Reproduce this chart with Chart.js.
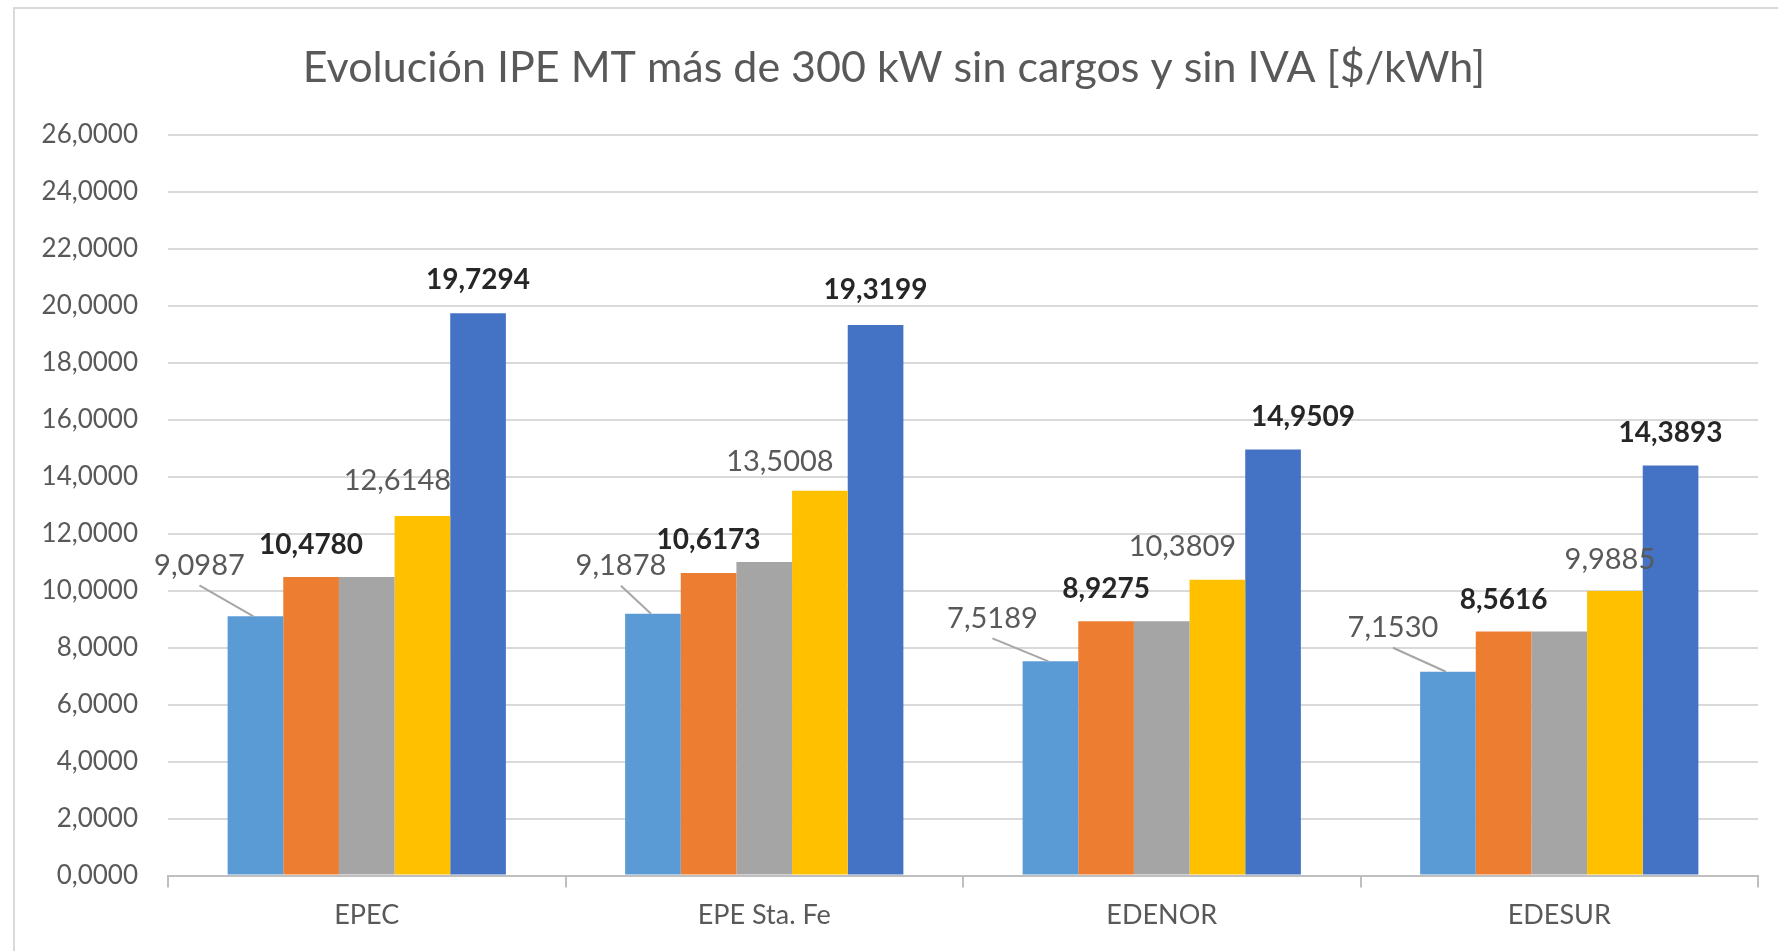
<!DOCTYPE html>
<html>
<head>
<meta charset="utf-8">
<title>Evolución IPE MT</title>
<script src="https://cdn.jsdelivr.net/npm/chart.js@4/dist/chart.umd.min.js"></script>
<style>
	html, body { margin: 0; padding: 0; background: #fff; }
	#wrap { position: relative; width: 1778px; height: 951px; overflow: hidden; }
	#frame { position: absolute; left: 13px; top: 7px; width: 1800px; height: 1000px;
		border-left: 2px solid #d9d9d9; border-top: 2px solid #d9d9d9; }
	#chart { position: absolute; left: 0; top: 0; }
</style>
</head>
<body>
<div id="wrap">
	<div id="frame"></div>
	<canvas id="chart" width="1778" height="951"></canvas>
</div>
<script>
var categories = ['EPEC', 'EPE Sta. Fe', 'EDENOR', 'EDESUR'];
var serie1 = [9.0987, 9.1878, 7.5189, 7.1530];
var serie2 = [10.4780, 10.6173, 8.9275, 8.5616];
var serie3 = [10.4780, 11.0000, 8.9275, 8.5616];
var serie4 = [12.6148, 13.5008, 10.3809, 9.9885];
var serie5 = [19.7294, 19.3199, 14.9509, 14.3893];
var yTicks = { min: 0, max: 26, step: 2 };

var FONT = 'Lato, "Open Sans", sans-serif';

// how each series' value labels are drawn (offsets in px from the top of the bar)
var labelStyle = [
	{ show: true, bold: false, leader: true, dx: [-56, -32, -58, -55], dy: [-51, -48, -43, -44] },
	{ show: true, bold: true, dx: [0, 0, 0, 0], dy: [-32, -33, -32, -32] },
	{ show: false },
	{ show: true, bold: false, dx: [-25, -40, -35, -5], dy: [-35, -29, -33, -31] },
	{ show: true, bold: true, dx: [0, 0, 30, 0], dy: [-33, -35, -33, -33] }
];

function fmt(v) {
	return v.toFixed(4).replace('.', ',');
}

var valueLabels = {
	id: 'valueLabels',
	afterDatasetsDraw: function(chart) {
		var ctx = chart.ctx;
		ctx.save();
		chart.data.datasets.forEach(function(ds, i) {
			var st = labelStyle[i];
			if (!st || !st.show) return;
			var meta = chart.getDatasetMeta(i);
			meta.data.forEach(function(el, j) {
				var lx = el.x + st.dx[j];
				var ly = el.y + st.dy[j];
				if (st.leader) {
					ctx.strokeStyle = '#a6a6a6';
					ctx.lineWidth = 2;
					ctx.beginPath();
					ctx.moveTo(lx, ly + 20);
					ctx.lineTo(el.x - 2, el.y);
					ctx.stroke();
				}
				ctx.font = st.bold ? 'bold 28px ' + FONT : '29px ' + FONT;
				ctx.fillStyle = st.bold ? '#262626' : '#595959';
				ctx.textAlign = 'center';
				ctx.textBaseline = 'middle';
				ctx.fillText(fmt(ds.data[j]), lx, ly);
			});
		});
		ctx.restore();
	}
};

var ctx = document.getElementById('chart').getContext('2d');
window.chart = new Chart(ctx, {
	type: 'bar',
	data: {
		labels: categories,
		datasets: [
			{ label: 'Serie 1', data: serie1, backgroundColor: '#5b9bd5' },
			{ label: 'Serie 2', data: serie2, backgroundColor: '#ed7d31' },
			{ label: 'Serie 3', data: serie3, backgroundColor: '#a5a5a5' },
			{ label: 'Serie 4', data: serie4, backgroundColor: '#ffc000' },
			{ label: 'Serie 5', data: serie5, backgroundColor: '#4472c4' }
		]
	},
	options: {
		responsive: false,
		animation: false,
		datasets: { bar: { barPercentage: 1, categoryPercentage: 0.7, borderWidth: 0 } },
		layout: { padding: { left: 30, right: 20, top: 0, bottom: 9 } },
		plugins: {
			legend: { display: false },
			tooltip: { enabled: false },
			title: {
				display: true,
				text: 'Evolución IPE MT más de 300 kW sin cargos y sin IVA [$/kWh]',
				color: '#595959',
				font: { family: FONT, size: 43, weight: 'normal', lineHeight: 1.2 },
				padding: { top: 42, bottom: 41 }
			}
		},
		scales: {
			x: {
				grid: { offset: true, drawOnChartArea: false, drawTicks: true, tickLength: 12, color: '#bfbfbf', lineWidth: 2 },
				border: { color: '#bfbfbf', width: 2 },
				ticks: { color: '#595959', padding: 11, font: { family: FONT, size: 27 } }
			},
			y: {
				min: yTicks.min,
				max: yTicks.max,
				afterFit: function(scale) { scale.width = 138; },
				grid: { color: '#d9d9d9', lineWidth: 2, drawTicks: false },
				border: { display: false },
				ticks: {
					stepSize: yTicks.step,
					color: '#595959',
					padding: 30,
					font: { family: FONT, size: 26 },
					callback: function(v) { return fmt(v); }
				}
			}
		}
	},
	plugins: [valueLabels]
});
</script>
</body>
</html>
